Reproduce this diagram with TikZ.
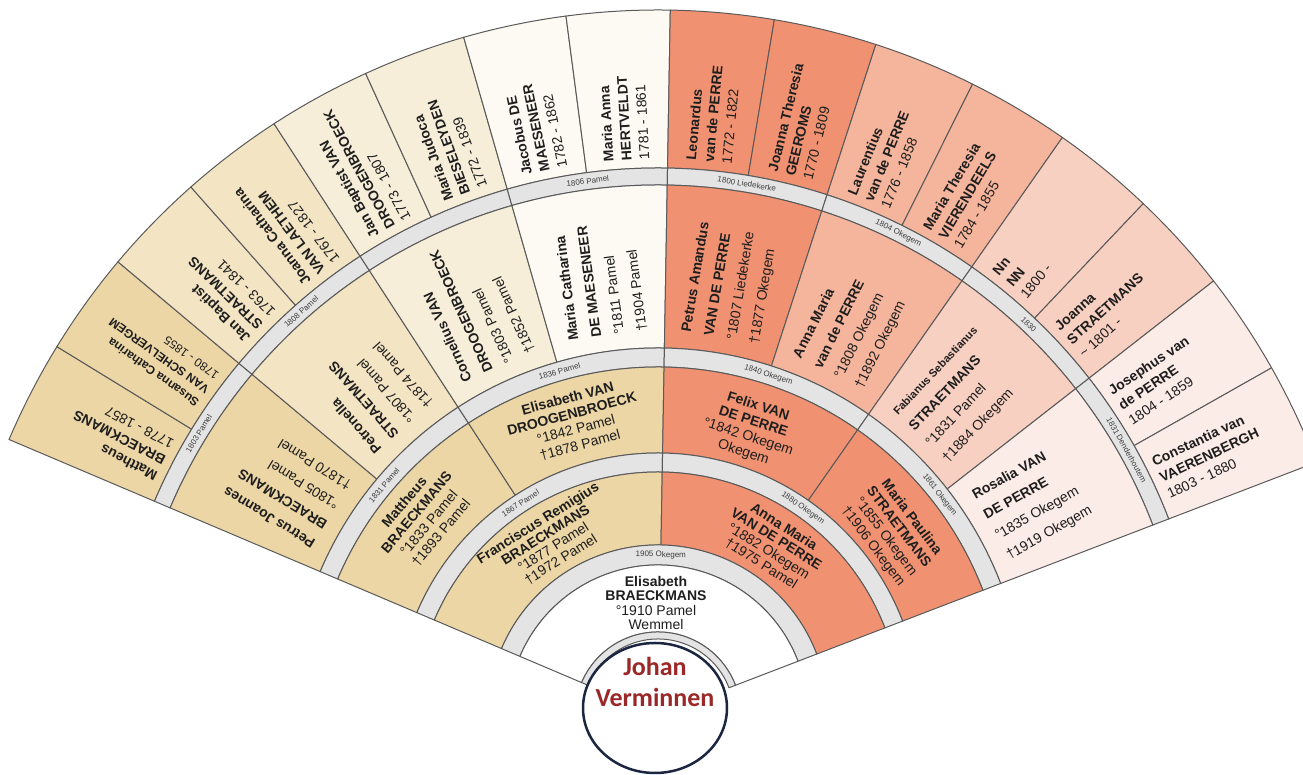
\documentclass[tikz,border=0pt]{standalone}
\usepackage{fontspec}
\setmainfont{Liberation Sans}
\newfontfamily\calib{Carlito}
\definecolor{tanA}{RGB}{236,214,166}
\definecolor{tanB}{RGB}{243,228,195}
\definecolor{tanC}{RGB}{247,238,218}
\definecolor{tanD}{RGB}{253,250,243}
\definecolor{salA}{RGB}{240,146,114}
\definecolor{salB}{RGB}{245,180,156}
\definecolor{salC}{RGB}{248,208,194}
\definecolor{salD}{RGB}{252,236,231}
\definecolor{stripc}{RGB}{228,228,228}
\definecolor{linec}{RGB}{90,90,90}
\definecolor{txt}{RGB}{30,30,30}
\definecolor{labc}{RGB}{60,60,60}
\definecolor{jred}{RGB}{155,40,40}
\definecolor{jnavy}{RGB}{27,38,64}
\newcommand\sector[5]{%
  \path[cellline, fill=#1] (#2:#4) arc[start angle=#2, end angle=#3, radius=#4*0.5pt] -- (#3:#5) arc[start angle=#3, end angle=#2, radius=#5*0.5pt] -- cycle;}
\newcommand\slab[4]{\node[lab, rotate=#2-90] (#1) at (#2:#3) {#4};}
\begin{document}
\begin{tikzpicture}[x=0.5pt,y=0.5pt,
  cellline/.style={draw=linec, line width=0.5pt},
  gfour/.style={font=\fontsize{7}{9}\selectfont, align=left, anchor=west, inner sep=0pt, text=txt},
  gthree/.style={font=\fontsize{7}{11.5}\selectfont, align=left, anchor=west, inner sep=0pt, text=txt},
  gtwo/.style={font=\fontsize{7}{8}\selectfont, align=center, inner sep=0pt, text=txt},
  gone/.style={font=\fontsize{7}{7.2}\selectfont, align=center, inner sep=0pt, text=txt},
  lab/.style={font=\fontsize{4}{4}\selectfont, text=labc, inner sep=0pt}]
\useasboundingbox (0,0) rectangle (1303,775);
\begin{scope}[shift={(658,60)}]
% generation 4
\sector{tanA}{157}{148.5}{547}{705}
\sector{tanA}{148.5}{140}{547}{705}
\sector{tanB}{140}{131.5}{547}{705}
\sector{tanB}{131.5}{123}{547}{705}
\sector{tanC}{123}{114.5}{547}{705}
\sector{tanC}{114.5}{106}{547}{705}
\sector{tanD}{106}{97.5}{547}{705}
\sector{tanD}{97.5}{89}{547}{705}
\sector{salA}{89}{80.5}{547}{705}
\sector{salA}{80.5}{72}{547}{705}
\sector{salB}{72}{63.5}{547}{705}
\sector{salB}{63.5}{55}{547}{705}
\sector{salC}{55}{46.5}{547}{705}
\sector{salC}{46.5}{38}{547}{705}
\sector{salD}{38}{29.5}{547}{705}
\sector{salD}{29.5}{21}{547}{705}
% strip 3
\foreach \a in {157,140,123,106,89,72,55,38}{\sector{stripc}{\a}{\a-17}{530}{547}}
% generation 3
\sector{tanA}{157}{140}{367}{530}
\sector{tanB}{140}{123}{367}{530}
\sector{tanC}{123}{106}{367}{530}
\sector{tanD}{106}{89}{367}{530}
\sector{salA}{89}{72}{367}{530}
\sector{salB}{72}{55}{367}{530}
\sector{salC}{55}{38}{367}{530}
\sector{salD}{38}{21}{367}{530}
% strip 2
\foreach \a in {157,123,89,55}{\sector{stripc}{\a}{\a-34}{348}{367}}
% generation 2
\sector{tanA}{157}{123}{262}{348}
\sector{tanA}{123}{89}{262}{348}
\sector{salA}{89}{55}{262}{348}
\sector{salA}{55}{21}{262}{348}
% strip 1
\sector{stripc}{157}{89}{243}{262}
\sector{stripc}{89}{21}{243}{262}
% generation 1
\sector{tanA}{157}{89}{170}{243}
\sector{salA}{89}{21}{170}{243}
% strip 0
\sector{stripc}{157}{21}{150}{170}
% generation 0
\sector{white}{157}{21}{83}{150}
\sector{stripc}{157}{21}{76}{83}

% texts generation 4
\node[gfour, rotate=152.75] (p1) at (152.75:555) {\textbf{Mattheus}\\\textbf{BRAECKMANS}\\1778 - 1857};
\node[gfour, rotate=144.25, font=\fontsize{6}{8.5}\selectfont] (p2) at (144.25:555) {\textbf{Susanna Catharina}\\\textbf{VAN SCHELVERGEM}\\1780 - 1855};
\node[gfour, rotate=135.75] (p3) at (135.75:555) {\textbf{Jan Baptist}\\\textbf{STRAETMANS}\\1763 - 1841};
\node[gfour, rotate=127.25] (p4) at (127.25:555) {\textbf{Joanna Catharina}\\\textbf{VAN LAETHEM}\\1767 - 1827};
\node[gfour, rotate=118.75] (p5) at (118.75:555) {\textbf{Jan Baptist VAN}\\\textbf{DROOGENBROECK}\\1773 - 1807};
\node[gfour, rotate=110.25] (p6) at (110.25:555) {\textbf{Maria Judoca}\\\textbf{BIESELEYDEN}\\1772 - 1839};
\node[gfour, rotate=101.75] (p7) at (101.75:555) {\textbf{Jacobus DE}\\\textbf{MAESENEER}\\1782 - 1862};
\node[gfour, rotate=93.25] (p8) at (93.25:555) {\textbf{Maria Anna}\\\textbf{HERTVELDT}\\1781 - 1861};
\node[gfour, rotate=84.75] (p9) at (84.75:555) {\textbf{Leonardus}\\\textbf{van de PERRE}\\1772 - 1822};
\node[gfour, rotate=76.25] (p10) at (76.25:555) {\textbf{Joanna Theresia}\\\textbf{GEEROMS}\\1770 - 1809};
\node[gfour, rotate=67.75] (p11) at (67.75:555) {\textbf{Laurentius}\\\textbf{van de PERRE}\\1776 - 1858};
\node[gfour, rotate=59.25] (p12) at (59.25:555) {\textbf{Maria Theresia}\\\textbf{VIERENDEELS}\\1784 - 1855};
\node[gfour, rotate=50.75] (p13) at (50.75:555) {\textbf{Nn}\\\textbf{NN}\\1800 -};
\node[gfour, rotate=42.25] (p14) at (42.25:555) {\textbf{Joanna}\\\textbf{STRAETMANS}\\\textasciitilde{} 1801 -};
\node[gfour, rotate=33.75] (p15) at (33.75:555) {\textbf{Josephus van}\\\textbf{de PERRE}\\1804 - 1859};
\node[gfour, rotate=25.25] (p16) at (25.25:555) {\textbf{Constantia van}\\\textbf{VAERENBERGH}\\1803 - 1880};

% texts generation 3
\node[gthree, rotate=148.5] (q1) at (148.5:382) {\textbf{Petrus Joannes}\\\textbf{BRAECKMANS}\\°1805 Pamel\\†1870 Pamel};
\node[gthree, rotate=131.5] (q2) at (131.5:382) {\textbf{Petronella}\\\textbf{STRAETMANS}\\°1807 Pamel\\†1874 Pamel};
\node[gthree, rotate=114.5] (q3) at (114.5:382) {\textbf{Cornelius VAN}\\\textbf{DROOGENBROECK}\\°1803 Pamel\\†1852 Pamel};
\node[gthree, rotate=97.5] (q4) at (97.5:382) {\textbf{Maria Catharina}\\\textbf{DE MAESENEER}\\°1811 Pamel\\†1904 Pamel};
\node[gthree, rotate=80.5] (q5) at (80.5:382) {\textbf{Petrus Amandus}\\\textbf{VAN DE PERRE}\\°1807 Liedekerke\\†1877 Okegem};
\node[gthree, rotate=63.5] (q6) at (63.5:382) {\textbf{Anna Maria}\\\textbf{van de PERRE}\\°1808 Okegem\\†1892 Okegem};
\node[gthree, rotate=46.5] (q7) at (46.5:382) {{\fontsize{5.5}{5.5}\selectfont\textbf{Fabianus Sebastianus}}\\\textbf{STRAETMANS}\\°1831 Pamel\\†1884 Okegem};
\node[gthree, rotate=29.5] (q8) at (29.5:382) {\textbf{Rosalia VAN}\\\textbf{DE PERRE}\\°1835 Okegem\\†1919 Okegem};

% texts generation 2
\node[gtwo, rotate=50] (m1) at (140:307) {\textbf{Mattheus}\\\textbf{BRAECKMANS}\\°1833 Pamel\\†1893 Pamel};
\node[gtwo, rotate=15] (m2) at (106:305) {\textbf{Elisabeth VAN}\\\textbf{DROOGENBROECK}\\°1842 Pamel\\†1878 Pamel};
\node[gtwo, rotate=-18] (m3) at (72:300) {\textbf{Felix VAN}\\\textbf{DE PERRE}\\°1842 Okegem\\Okegem};
\node[gtwo, rotate=-53] (m4) at (38:297) {\textbf{Maria Paulina}\\\textbf{STRAETMANS}\\°1855 Okegem\\†1906 Okegem};

% texts generation 1
\node[gone, rotate=32] (f1) at (122:205) {\textbf{Franciscus Remigius}\\\textbf{BRAECKMANS}\\°1877 Pamel\\†1972 Pamel};
\node[gone, rotate=-32] (f2) at (56:205) {\textbf{Anna Maria}\\\textbf{VAN DE PERRE}\\°1882 Okegem\\†1975 Pamel};

% generation 0
\node[gone] (e0) at (-2,112) {\textbf{Elisabeth}\\\textbf{BRAECKMANS}\\°1910 Pamel\\Wemmel};

% marriage labels
\slab{s0}{89}{160}{1905 Okegem}
\slab{s1a}{123}{252.5}{1867 Pamel}
\slab{s1b}{55}{252.5}{1880 Okegem}
\slab{s2a}{140}{357.5}{1831 Pamel}
\slab{s2b}{106}{357.5}{1836 Pamel}
\slab{s2c}{72}{357.5}{1840 Okegem}
\slab{s2d}{38}{357.5}{1861 Okegem}
\slab{s3a}{148.5}{538.5}{1803 Pamel}
\slab{s3b}{131.5}{538.5}{1808 Pamel}
\slab{s3d}{97.5}{538.5}{1806 Pamel}
\slab{s3e}{80.5}{538.5}{1800 Liedekerke}
\slab{s3f}{63.5}{538.5}{1804 Okegem}
\slab{s3g}{46.5}{538.5}{1830}
\slab{s3h}{29.5}{538.5}{1831 Denderhoutem}

% root person
\draw[draw=jnavy, fill=white, line width=1.25pt] (-3,7) ellipse[x radius=72*0.5pt, y radius=65*0.5pt];
\node[font=\calib\bfseries\fontsize{13}{15.5}\selectfont, text=jred, align=center, inner sep=0pt] (johan) at (-3,33) {Johan\\Verminnen};
\end{scope}
\end{tikzpicture}
\end{document}
